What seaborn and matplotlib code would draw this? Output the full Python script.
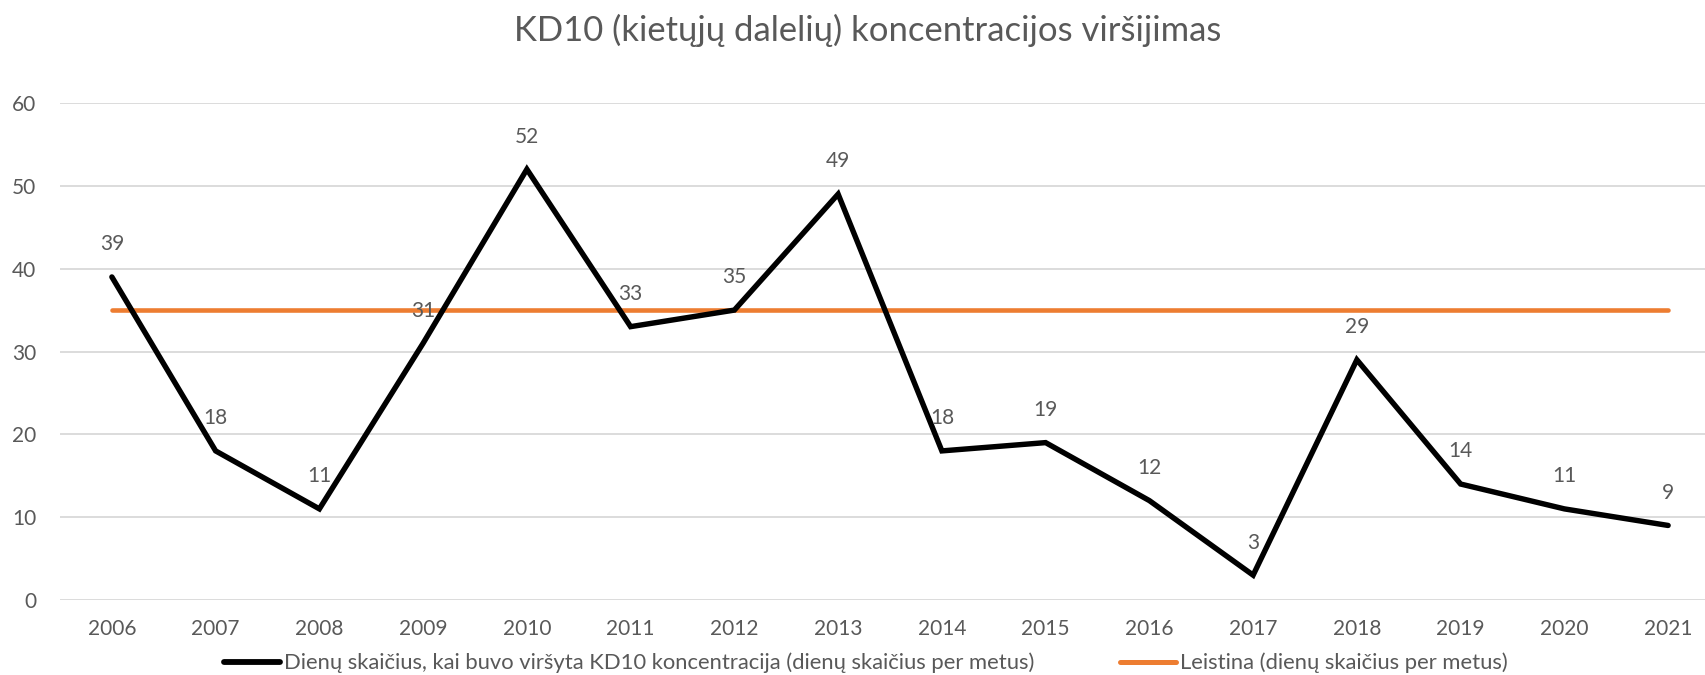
import matplotlib
matplotlib.use("Agg")
import matplotlib.pyplot as plt
import seaborn as sns
import pandas as pd
from matplotlib.lines import Line2D

years = ["2006", "2007", "2008", "2009", "2010", "2011", "2012", "2013",
         "2014", "2015", "2016", "2017", "2018", "2019", "2020", "2021"]
exceed_days = [39, 18, 11, 31, 52, 33, 35, 49, 18, 19, 12, 3, 29, 14, 11, 9]
limit_days = [35] * 16

title = "KD10 (kietųjų dalelių) koncentracijos viršijimas"
label_exceed = "Dienų skaičius, kai buvo viršyta KD10 koncentracija (dienų skaičius per metus)"
label_limit = "Leistina (dienų skaičius per metus)"

sns.set_theme(style="white")
plt.rcParams["font.family"] = ["Lato", "DejaVu Sans"]

TXT = "#595959"
GRID = "#D9D9D9"
BLACK = "#000000"
ORANGE = "#ED7D31"

df = pd.DataFrame({"year": years, "exceed": exceed_days, "limit": limit_days})

fig = plt.figure(figsize=(17.06, 6.75), dpi=100)
ax = fig.add_axes([60 / 1706, 75 / 675, 1660 / 1706, 497 / 675])

sns.lineplot(data=df, x="year", y="limit", ax=ax, color=ORANGE, lw=3.3,
             solid_capstyle="round", zorder=3, sort=False)
sns.lineplot(data=df, x="year", y="exceed", ax=ax, color=BLACK, lw=3.9,
             solid_capstyle="round", solid_joinstyle="miter", zorder=4, sort=False)

for i, v in enumerate(exceed_days):
    ax.annotate(str(v), (i, v), xytext=(0, 23.5), textcoords="offset points",
                ha="center", va="center", fontsize=15, color=TXT, zorder=5)

ax.set_xlim(-0.5, len(years) - 0.5)
ax.set_ylim(0, 60)
ax.set_yticks(range(0, 61, 10))
ax.yaxis.grid(True, color=GRID, lw=1.3)
ax.xaxis.grid(False)
ax.set_axisbelow(True)
for s in ax.spines.values():
    s.set_visible(False)
ax.tick_params(axis="y", length=0, pad=17, labelsize=15, labelcolor=TXT)
ax.tick_params(axis="x", length=0, pad=14, labelsize=15, labelcolor=TXT)
ax.set_xlabel("")
ax.set_ylabel("")

fig.text(868 / 1706, 1 - 30.5 / 675, title, ha="center", va="center",
         fontsize=24.9, color=TXT)

handles = [Line2D([], [], color=BLACK, lw=4.2, solid_capstyle="round"),
           Line2D([], [], color=ORANGE, lw=3.6, solid_capstyle="round")]
fig.legend(handles, [label_exceed, label_limit], loc="center",
           bbox_to_anchor=(866 / 1706, 1 - 663 / 675), ncol=2, frameon=False,
           fontsize=15.8, labelcolor=TXT, handlelength=2.55, handletextpad=0.2,
           columnspacing=3.9)

fig.savefig("out.png", dpi=100)
